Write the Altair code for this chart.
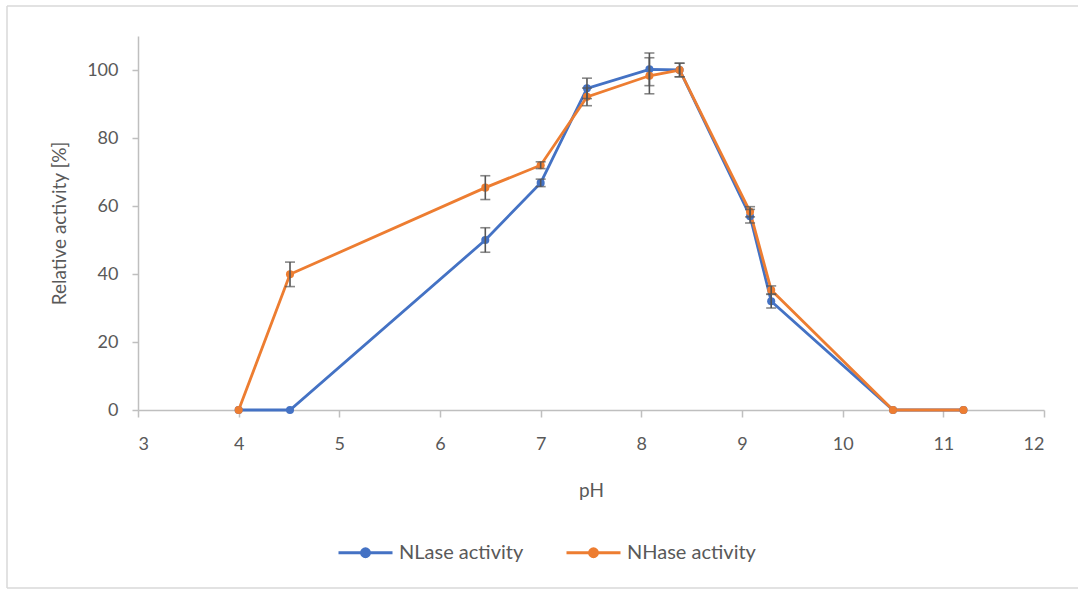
import altair as alt
import pandas as pd

ph = [4.0, 4.51, 6.45, 7.0, 7.46, 8.08, 8.38, 9.08, 9.29, 10.5, 11.2]
nlase = [0, 0, 50.0, 66.8, 94.6, 100.2, 100.0, 57.0, 32.0, 0, 0]
nlase_err = [0, 0, 3.6, 1.1, 3.0, 4.8, 2.0, 2.0, 2.0, 0, 0]
nhase = [0, 39.9, 65.4, 72.0, 92.1, 98.3, 100.0, 58.3, 35.3, 0, 0]
nhase_err = [0, 3.6, 3.5, 1.0, 2.6, 5.3, 2.0, 1.5, 1.2, 0, 0]
series = ["NLase activity", "NHase activity"]
colors = ["#4472C4", "#ED7D31"]
x_ticks = [3, 4, 5, 6, 7, 8, 9, 10, 11, 12]
y_ticks = [0, 20, 40, 60, 80, 100]

rows = []
for name, vals, errs in [(series[0], nlase, nlase_err), (series[1], nhase, nhase_err)]:
    for p, v, e in zip(ph, vals, errs):
        rows.append({"pH": p, "act": v, "lo": v - e, "hi": v + e, "err": e, "series": name})
df = pd.DataFrame(rows)
df_err = df[df["err"] > 0]

FONT = "Lato"
GREY = "#595959"
AXC = "#bfbfbf"
YTITLE = "Relative activity [%]"

x_enc = alt.X("pH:Q", scale=alt.Scale(domain=[3, 12], nice=False, zero=False),
              axis=alt.Axis(values=x_ticks, title="pH", grid=False, tickSize=7,
                            labelPadding=18, titlePadding=28, format="d"))
y_enc = alt.Y("act:Q", title=YTITLE, scale=alt.Scale(domain=[0, 110], nice=False),
              axis=alt.Axis(values=y_ticks, grid=False,
                            tickSize=6, labelPadding=14, titleX=-79, titleY=187,
                            titleAngle=-90, titleAlign="center", titleBaseline="middle"))

sym_path = "M-1,0L1,0M-0.15,0A0.15,0.15,0,1,1,0.15,0A0.15,0.15,0,1,1,-0.15,0Z"

legend = alt.Legend(title=None, orient="none", direction="horizontal",
                    legendX=199, legendY=488,
                    symbolType=sym_path, symbolSize=2916,
                    symbolStrokeWidth=2.8, labelOffset=5,
                    columnPadding=36, labelFontSize=20,
                    labelColor=GREY, labelFont=FONT)
color_scale = alt.Scale(domain=series, range=colors)

one = pd.DataFrame({"a": [0]})
frame_style = dict(color="#d9d9d9", strokeWidth=1.5)
frame_left = alt.Chart(one).mark_rule(**frame_style).encode(
    x=alt.value(-131), y=alt.value(-30), y2=alt.value(552))
frame_top = alt.Chart(one).mark_rule(**frame_style).encode(
    x=alt.value(-131), x2=alt.value(940), y=alt.value(-30))
frame_bottom = alt.Chart(one).mark_rule(**frame_style).encode(
    x=alt.value(-131), x2=alt.value(940), y=alt.value(552))

errbars = alt.Chart(df_err).mark_errorbar(ticks=alt.MarkConfig(size=10), thickness=1.6,
                                          color="#555555").encode(
    x=alt.X("pH:Q", title="pH"), y=alt.Y("lo:Q", title=YTITLE), y2="hi:Q")

lines = alt.Chart(df).mark_line(strokeWidth=2.8).encode(
    x=x_enc, y=y_enc, color=alt.Color("series:N", scale=color_scale, legend=legend),
    order=alt.Order("pH:Q"))
points = alt.Chart(df).mark_circle(size=65, opacity=1).encode(
    x=alt.X("pH:Q", title="pH"), y=alt.Y("act:Q", title=YTITLE),
    color=alt.Color("series:N", scale=color_scale, legend=legend))

chart = alt.layer(frame_left, frame_top, frame_bottom, lines, points, errbars).resolve_scale(
    color="shared").properties(
    width=906, height=374,
    background="white",
    autosize=alt.AutoSizeParams(type="none"),
    padding={"left": 138, "top": 36, "right": 34, "bottom": 180},
).configure_axis(
    domainColor=AXC, domainWidth=1.5, tickColor=AXC, tickWidth=1.5,
    labelFont=FONT, labelFontSize=18, labelColor=GREY,
    titleFont=FONT, titleFontSize=19, titleColor=GREY, titleFontWeight="normal",
).configure_view(stroke=None)

chart.save("out.html", embed_options={"renderer": "svg", "actions": False})
